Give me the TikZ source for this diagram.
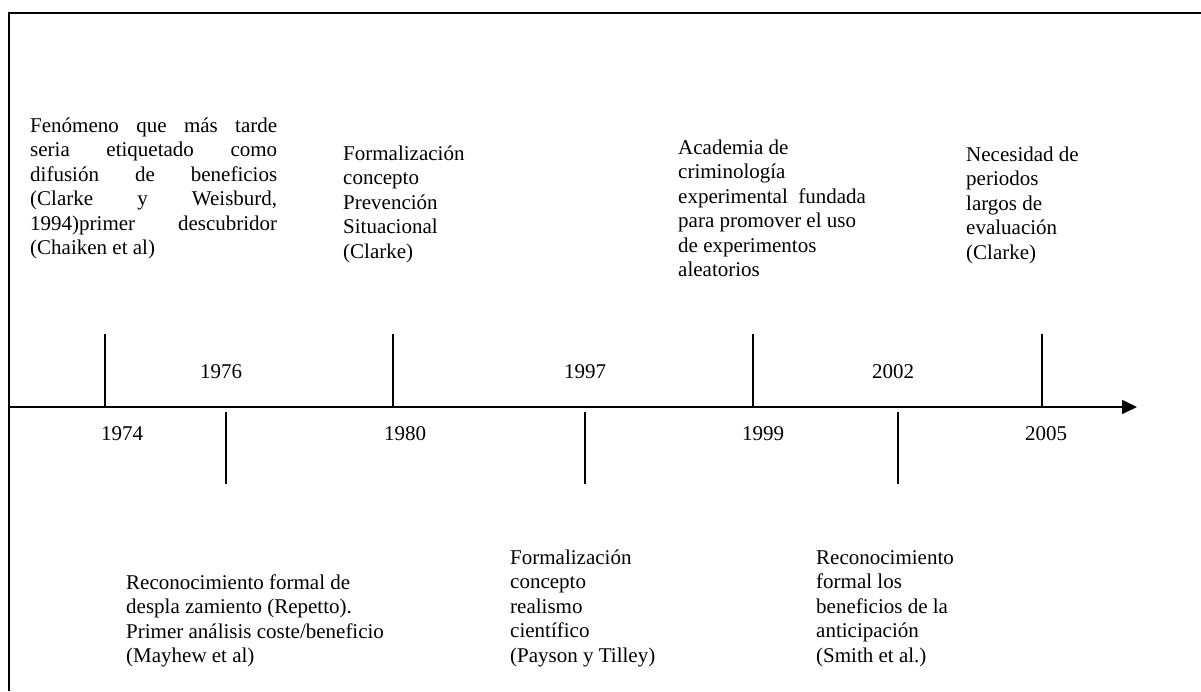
\documentclass[tikz,border=0pt]{standalone}
\usepackage{fontspec}
\setmainfont{Liberation Serif}
\usetikzlibrary{arrows.meta}
\newcommand{\tblock}[2]{\parbox[t]{#1pt}{\raggedright #2}}
\newcommand{\jline}[1]{\makebox[\linewidth][s]{#1}}
\tikzset{
  txt/.style={anchor=base west, inner sep=0pt, font=\fontsize{21}{24.5}\selectfont},
  yr/.style={anchor=base, inner sep=0pt, font=\fontsize{21}{24.5}\selectfont},
  frameline/.style={line width=1.4pt, black},
  tick/.style={line width=1.5pt, black},
  axisline/.style={line width=1.6pt, black, -{Triangle[length=15pt,width=14pt]}}
}
\begin{document}
\begin{tikzpicture}[x=1pt,y=-1pt]
\useasboundingbox (0,0) rectangle (1201,691);
% frame
\coordinate (fTR) at (1201,13);
\coordinate (fTL) at (9,13);
\coordinate (fBL) at (9,691);
\draw[frameline] (fTR) -- (fTL) -- (fBL);
% axis
\coordinate (ax0) at (9,407);
\coordinate (ax1) at (1137,407);
\draw[axisline] (ax0) -- (ax1);
% upper ticks
\foreach \n/\x in {a/105,b/393,c/753,d/1042}{
  \coordinate (up\n) at (\x,334);
  \coordinate (ub\n) at (\x,407);
  \draw[tick] (up\n) -- (ub\n);
}
% lower ticks
\foreach \n/\x in {a/226,b/585,c/898}{
  \coordinate (lt\n) at (\x,412);
  \coordinate (lb\n) at (\x,484);
  \draw[tick] (lt\n) -- (lb\n);
}
% years
\node[yr] (y1976) at (221,378) {1976};
\node[yr] (y1997) at (585,378) {1997};
\node[yr] (y2002) at (893,378) {2002};
\node[yr] (y1974) at (122,440) {1974};
\node[yr] (y1980) at (405,440) {1980};
\node[yr] (y1999) at (763,440) {1999};
\node[yr] (y2005) at (1046,440) {2005};
% upper texts
\node[txt] (t1) at (30,132) {\tblock{247}{%
  \jline{Fenómeno que más tarde}\\
  \jline{seria etiquetado como}\\
  \jline{difusión de beneficios}\\
  \jline{(Clarke y Weisburd,}\\
  \jline{1994)primer descubridor}\\
  (Chaiken et al)}};
\node[txt] (t2) at (343,160) {\tblock{200}{Formalización\\concepto\\Prevención\\Situacional\\(Clarke)}};
\node[txt] (t3) at (678,154) {\tblock{260}{Academia de\\criminología\\experimental\ \ fundada\\para promover el uso\\de experimentos\\aleatorios}};
\node[txt] (t4) at (966,161) {\tblock{200}{Necesidad de\\periodos\\largos de\\evaluación\\(Clarke)}};
% lower texts
\node[txt] (t5) at (126,589) {\tblock{320}{Reconocimiento formal de\\despla zamiento (Repetto).\\Primer análisis coste/beneficio\\(Mayhew et al)}};
\node[txt] (t6) at (510,564) {\tblock{250}{Formalización\\concepto\\realismo\\científico\\(Payson y Tilley)}};
\node[txt] (t7) at (816,564) {\tblock{250}{Reconocimiento\\formal los\\beneficios de la\\anticipación\\(Smith et al.)}};
\end{tikzpicture}
\end{document}
